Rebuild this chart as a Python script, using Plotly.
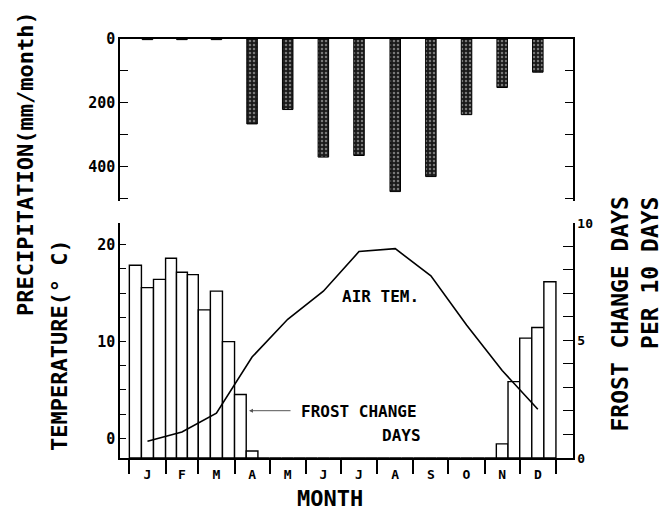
import plotly.graph_objects as go

# ---------------- data ----------------
months = ['J', 'F', 'M', 'A', 'M', 'J', 'J', 'A', 'S', 'O', 'N', 'D']
month_days = [31, 28, 31, 30, 31, 30, 31, 31, 30, 31, 30, 31]
precip_mm = [2, 2, 2, 266, 221, 370, 365, 478, 431, 237, 152, 104]
air_temp_c = [-0.3, 0.65, 2.6, 8.4, 12.3, 15.2, 19.3, 19.6, 16.8, 11.7, 7.0, 3.0]
# frost change days per 10 days (3 dekads per month)
frost_days = [8.2, 7.25, 7.6,   8.5, 7.9, 7.8,   6.3, 7.1, 4.95,  2.7, 0.3, 0.0,
              0, 0, 0,  0, 0, 0,  0, 0, 0,  0, 0, 0,  0, 0, 0,  0, 0, 0,
              0.0, 0.6, 3.25,  5.1, 5.55, 7.5]
precip_ticks = [0, 100, 200, 300, 400, 500]
precip_ticklabels = ['0', '', '200', '', '400', '']
temp_ticks = [0, 2.5, 5, 7.5, 10, 12.5, 15, 17.5, 20]
temp_ticklabels = ['0', '', '', '', '10', '', '', '', '20']
frost_ticks = list(range(0, 11))
frost_ticklabels = ['0', '', '', '', '', '5', '', '', '', '', '10']

# ---------------- derived positions (day of year) ----------------
starts = []
s = 0
for d in month_days:
    starts.append(s)
    s += d
mids = [st + d / 2 for st, d in zip(starts, month_days)]
dek_x, dek_w = [], []
for st, d in zip(starts, month_days):
    for k in range(3):
        dek_x.append(st + (k + 0.5) * d / 3)
        dek_w.append(d / 3)

FONT = "DejaVu Sans Mono"
XR = [-8, 379.6]

fig = go.Figure()

fig.add_trace(go.Bar(
    x=mids, y=precip_mm, width=[9] * 12, xaxis='x2', yaxis='y2',
    marker=dict(color='#1a1a1a', line=dict(color='black', width=1),
                pattern=dict(shape='.', fgcolor='#d8d8d8', bgcolor='#1a1a1a',
                             size=4, solidity=0.3)),
    showlegend=False))

fig.add_trace(go.Bar(
    x=dek_x, y=frost_days, width=dek_w, xaxis='x', yaxis='y',
    marker=dict(color='white', line=dict(color='black', width=1.4)),
    showlegend=False))

fig.add_trace(go.Scatter(
    x=mids, y=air_temp_c, xaxis='x', yaxis='y3', mode='lines',
    line=dict(color='black', width=1.6), showlegend=False))

tickfont = dict(family=FONT, size=13, color='black', weight='bold')
ptickfont = dict(family=FONT, size=15, color='black', weight='bold')

# page body has an 8 px default margin: size/margins compensate for it
fig.update_layout(
    width=661, height=504,
    margin=dict(l=112, r=96, t=31, b=54),
    paper_bgcolor='white', plot_bgcolor='white',
    barmode='overlay',
    xaxis=dict(domain=[0, 1], range=XR, anchor='y', showline=True,
               linecolor='black', linewidth=1.5, showgrid=False, zeroline=False,
               tickmode='array', tickvals=mids, ticktext=months,
               ticks='outside', ticklen=4, tickcolor='rgba(0,0,0,0)',
               tickfont=tickfont,
               minor=dict(tickmode='array', tickvals=starts + [365], ticks='outside',
                          ticklen=14, tickwidth=1.5, tickcolor='black',
                          showgrid=False)),
    yaxis=dict(domain=[0, 0.561], range=[0, 10], anchor='x', side='right',
               showline=True, linecolor='black', linewidth=1.5,
               showgrid=False, zeroline=False,
               tickmode='array', tickvals=frost_ticks, ticktext=frost_ticklabels,
               ticks='inside', ticklen=10, tickwidth=1.3, tickcolor='black',
               tickfont=tickfont),
    yaxis3=dict(overlaying='y', side='left', range=[-2.04, 22.26], anchor='x',
                showline=True, linecolor='black', linewidth=1.5,
                showgrid=False, zeroline=False,
                tickmode='array', tickvals=temp_ticks, ticktext=temp_ticklabels,
                ticks='inside', ticklen=6, tickwidth=1.3, tickcolor='black',
                tickfont=ptickfont),
    xaxis2=dict(domain=[0, 1], range=XR, anchor='y2', side='top',
                showline=True, linecolor='black', linewidth=1.5,
                showgrid=False, zeroline=False, showticklabels=False, ticks=''),
    yaxis2=dict(domain=[0.613, 1], range=[508, 0], anchor='x2',
                showline=True, linecolor='black', linewidth=1.5, mirror='ticks',
                showgrid=False, zeroline=False,
                tickmode='array', tickvals=precip_ticks, ticktext=precip_ticklabels,
                ticks='inside', ticklen=8, tickwidth=1.3, tickcolor='black',
                tickfont=ptickfont),
)

lab = dict(family=FONT, size=16, color='black', weight='bold')
big = dict(family=FONT, size=22, color='black', weight='bold')

fig.add_annotation(x=214.5, y=14.7, xref='x', yref='y3', text='AIR TEM.',
                   xanchor='center', yanchor='middle', showarrow=False, font=lab)
fig.add_annotation(x=145, y=2.8, xref='x', yref='y3', text='FROST CHANGE',
                   xanchor='left', yanchor='middle', showarrow=False, font=lab)
fig.add_annotation(x=232.5, y=0.3, xref='x', yref='y3', text='DAYS',
                   xanchor='center', yanchor='middle', showarrow=False, font=lab)
fig.add_annotation(x=102.4, y=2.85, xref='x', yref='y3', text='', showarrow=True,
                   ax=43, ay=0, arrowhead=2, arrowsize=0.8, arrowwidth=1,
                   arrowcolor='#555')

fig.add_annotation(x=-0.21, y=0.704, xref='paper', yref='paper',
                   text='PRECIPITATION(mm/month)', textangle=-90,
                   xanchor='center', yanchor='middle', showarrow=False, font=big)
fig.add_annotation(x=-0.132, y=0.27, xref='paper', yref='paper',
                   text='TEMPERATURE(° C)', textangle=-90,
                   xanchor='center', yanchor='middle', showarrow=False, font=big)
fig.add_annotation(x=1.104, y=0.628, xref='paper', yref='paper',
                   text='FROST CHANGE DAYS', textangle=-90,
                   xanchor='center', yanchor='top', showarrow=False,
                   font=dict(family=FONT, size=23, color='black', weight='bold'))
fig.add_annotation(x=1.17, y=0.628, xref='paper', yref='paper',
                   text='PER 10 DAYS', textangle=-90,
                   xanchor='center', yanchor='top', showarrow=False,
                   font=dict(family=FONT, size=23, color='black', weight='bold'))
fig.add_annotation(x=0.4636, y=-0.097, xref='paper', yref='paper',
                   text='MONTH', xanchor='center', yanchor='middle', showarrow=False,
                   font=dict(family=FONT, size=22, color='black', weight='bold'))

fig.write_html("out.html")
